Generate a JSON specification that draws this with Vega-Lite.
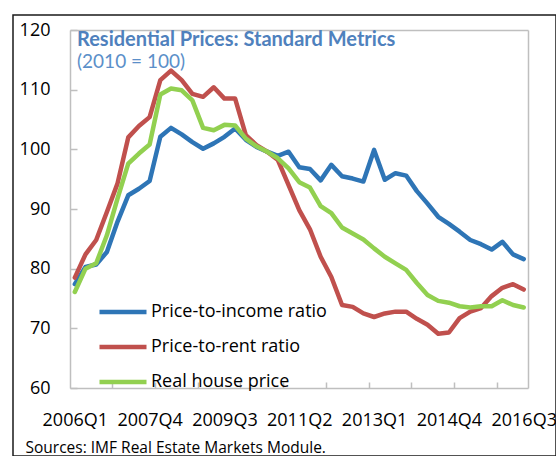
{
  "$schema": "https://vega.github.io/schema/vega-lite/v6.json",
  "width": 543,
  "height": 441,
  "autosize": {"type": "none"},
  "padding": {"left": 13, "top": 15, "right": 0, "bottom": 0},
  "background": "white",
  "config": {"view": {"stroke": "#1a1a1a", "strokeWidth": 1.5}, "font": "Open Sans"},
  "title": {
    "text": "Residential Prices: Standard Metrics",
    "subtitle": "(2010 = 100)",
    "anchor": "start",
    "frame": "group",
    "orient": "top",
    "font": "Lato",
    "fontSize": 20,
    "fontWeight": "bold",
    "color": "#4f81bd",
    "subtitleFont": "Lato",
    "subtitleFontSize": 19,
    "subtitleFontWeight": "normal",
    "subtitleColor": "#5b8fc9",
    "subtitlePadding": 3,
    "dx": 64,
    "dy": 57,
    "offset": 0
  },
  "data": {
    "values": [
      {"q": 0, "Price-to-income ratio": 77.4, "Price-to-rent ratio": 78.5, "Real house price": 76.1},
      {"q": 1, "Price-to-income ratio": 80.3, "Price-to-rent ratio": 82.4, "Real house price": 80.0},
      {"q": 2, "Price-to-income ratio": 80.7, "Price-to-rent ratio": 84.8, "Real house price": 80.9},
      {"q": 3, "Price-to-income ratio": 82.8, "Price-to-rent ratio": 89.5, "Real house price": 85.6},
      {"q": 4, "Price-to-income ratio": 87.9, "Price-to-rent ratio": 94.3, "Real house price": 91.8},
      {"q": 5, "Price-to-income ratio": 92.3, "Price-to-rent ratio": 102.0, "Real house price": 97.6},
      {"q": 6, "Price-to-income ratio": 93.4, "Price-to-rent ratio": 103.9, "Real house price": 99.3},
      {"q": 7, "Price-to-income ratio": 94.7, "Price-to-rent ratio": 105.4, "Real house price": 100.8},
      {"q": 8, "Price-to-income ratio": 102.1, "Price-to-rent ratio": 111.6, "Real house price": 109.2},
      {"q": 9, "Price-to-income ratio": 103.6, "Price-to-rent ratio": 113.2, "Real house price": 110.2},
      {"q": 10, "Price-to-income ratio": 102.5, "Price-to-rent ratio": 111.6, "Real house price": 109.9},
      {"q": 11, "Price-to-income ratio": 101.2, "Price-to-rent ratio": 109.3, "Real house price": 108.2},
      {"q": 12, "Price-to-income ratio": 100.1, "Price-to-rent ratio": 108.8, "Real house price": 103.6},
      {"q": 13, "Price-to-income ratio": 101.0, "Price-to-rent ratio": 110.4, "Real house price": 103.2},
      {"q": 14, "Price-to-income ratio": 102.1, "Price-to-rent ratio": 108.5, "Real house price": 104.1},
      {"q": 15, "Price-to-income ratio": 103.5, "Price-to-rent ratio": 108.5, "Real house price": 104.0},
      {"q": 16, "Price-to-income ratio": 101.6, "Price-to-rent ratio": 102.4, "Real house price": 101.8},
      {"q": 17, "Price-to-income ratio": 100.4, "Price-to-rent ratio": 100.7, "Real house price": 100.5},
      {"q": 18, "Price-to-income ratio": 99.6, "Price-to-rent ratio": 99.6, "Real house price": 99.6},
      {"q": 19, "Price-to-income ratio": 98.9, "Price-to-rent ratio": 98.2, "Real house price": 98.5},
      {"q": 20, "Price-to-income ratio": 99.6, "Price-to-rent ratio": 94.0, "Real house price": 96.8},
      {"q": 21, "Price-to-income ratio": 97.0, "Price-to-rent ratio": 89.8, "Real house price": 94.5},
      {"q": 22, "Price-to-income ratio": 96.7, "Price-to-rent ratio": 86.6, "Real house price": 93.6},
      {"q": 23, "Price-to-income ratio": 94.8, "Price-to-rent ratio": 82.0, "Real house price": 90.5},
      {"q": 24, "Price-to-income ratio": 97.4, "Price-to-rent ratio": 78.6, "Real house price": 89.3},
      {"q": 25, "Price-to-income ratio": 95.5, "Price-to-rent ratio": 73.9, "Real house price": 86.9},
      {"q": 26, "Price-to-income ratio": 95.1, "Price-to-rent ratio": 73.6, "Real house price": 85.9},
      {"q": 27, "Price-to-income ratio": 94.6, "Price-to-rent ratio": 72.5, "Real house price": 84.9},
      {"q": 28, "Price-to-income ratio": 99.9, "Price-to-rent ratio": 71.9, "Real house price": 83.4},
      {"q": 29, "Price-to-income ratio": 94.9, "Price-to-rent ratio": 72.5, "Real house price": 82.0},
      {"q": 30, "Price-to-income ratio": 96.0, "Price-to-rent ratio": 72.8, "Real house price": 80.9},
      {"q": 31, "Price-to-income ratio": 95.6, "Price-to-rent ratio": 72.8, "Real house price": 79.8},
      {"q": 32, "Price-to-income ratio": 93.0, "Price-to-rent ratio": 71.6, "Real house price": 77.6},
      {"q": 33, "Price-to-income ratio": 90.9, "Price-to-rent ratio": 70.6, "Real house price": 75.6},
      {"q": 34, "Price-to-income ratio": 88.7, "Price-to-rent ratio": 69.1, "Real house price": 74.6},
      {"q": 35, "Price-to-income ratio": 87.5, "Price-to-rent ratio": 69.3, "Real house price": 74.3},
      {"q": 36, "Price-to-income ratio": 86.2, "Price-to-rent ratio": 71.7, "Real house price": 73.7},
      {"q": 37, "Price-to-income ratio": 84.8, "Price-to-rent ratio": 72.8, "Real house price": 73.5},
      {"q": 38, "Price-to-income ratio": 84.1, "Price-to-rent ratio": 73.4, "Real house price": 73.7},
      {"q": 39, "Price-to-income ratio": 83.2, "Price-to-rent ratio": 75.4, "Real house price": 73.7},
      {"q": 40, "Price-to-income ratio": 84.5, "Price-to-rent ratio": 76.8, "Real house price": 74.7},
      {"q": 41, "Price-to-income ratio": 82.4, "Price-to-rent ratio": 77.4, "Real house price": 73.9},
      {"q": 42, "Price-to-income ratio": 81.6, "Price-to-rent ratio": 76.5, "Real house price": 73.5}
    ]
  },
  "transform": [
    {"fold": ["Price-to-income ratio", "Price-to-rent ratio", "Real house price"], "as": ["series", "value"]}
  ],
  "layer": [
    {
      "mark": {"type": "line", "strokeWidth": 4.5, "strokeCap": "round", "strokeJoin": "round"},
      "encoding": {
        "x": {
          "field": "q",
          "type": "quantitative",
          "scale": {"domain": [-0.45, 42.4], "range": [57, 515], "nice": false, "zero": false},
          "axis": {
            "values": [0, 3.5, 7, 7.5, 11.5, 14, 15.5, 19.5, 21, 23.5, 27.5, 28, 31.5, 35, 35.5, 39.5, 42],
            "labelExpr": "datum.value % 7 === 0 ? (2006 + floor(datum.value / 4)) + 'Q' + (datum.value % 4 + 1) : ''",
            "tickOpacity": {"condition": {"test": "datum.value % 1 === 0", "value": 0}, "value": 1},
            "tickSize": -6,
            "tickColor": "#bfbfbf",
            "tickWidth": 1.5,
            "domainColor": "#bfbfbf",
            "domainWidth": 1.5,
            "grid": false,
            "offset": -68,
            "labelFontSize": 18,
            "labelColor": "black",
            "labelPadding": 29,
            "labelFlush": false,
            "labelOverlap": false,
            "labelBound": false,
            "title": "Sources: IMF Real Estate Markets Module.",
            "titleFontSize": 15.5,
            "titleFontWeight": "normal",
            "titleColor": "black",
            "titleAnchor": "start",
            "titleAlign": "left",
            "titleBaseline": "middle",
            "titleX": 12,
            "titleY": 59
          }
        },
        "y": {
          "field": "value",
          "type": "quantitative",
          "scale": {"domain": [60, 120], "range": [373, 15], "nice": false, "zero": false},
          "axis": {
            "values": [60, 70, 80, 90, 100, 110, 120],
            "offset": -57,
            "tickSize": -7,
            "tickColor": "#bfbfbf",
            "tickWidth": 1.5,
            "domainColor": "#bfbfbf",
            "domainWidth": 1.5,
            "grid": false,
            "labelFontSize": 18,
            "labelColor": "black",
            "labelPadding": 27,
            "labelFlush": false,
            "labelOverlap": false,
            "title": null
          }
        },
        "color": {
          "field": "series",
          "type": "nominal",
          "scale": {
            "domain": ["Price-to-income ratio", "Price-to-rent ratio", "Real house price"],
            "range": ["#2e75b6", "#c0504d", "#92d050"]
          },
          "legend": {
            "orient": "none",
            "legendX": 84,
            "legendY": 271,
            "title": null,
            "symbolType": "stroke",
            "symbolSize": 2209,
            "symbolStrokeWidth": 4.5,
            "labelFontSize": 18,
            "labelColor": "black",
            "labelLimit": 0,
            "labelOffset": 2,
            "rowPadding": 0,
            "padding": 0
          }
        }
      }
    },
    {
      "mark": {"type": "line", "opacity": 0},
      "encoding": {
        "x": {
          "field": "q",
          "type": "quantitative",
          "axis": {"orient": "top", "offset": -15, "labels": false, "ticks": false, "grid": false, "domainColor": "#bfbfbf", "domainWidth": 1.5, "title": null}
        },
        "y": {
          "field": "value",
          "type": "quantitative",
          "axis": {"orient": "right", "offset": -28, "labels": false, "ticks": false, "grid": false, "domainColor": "#bfbfbf", "domainWidth": 1.5, "title": null}
        },
        "detail": {"field": "series", "type": "nominal"}
      }
    }
  ],
  "resolve": {"axis": {"x": "independent", "y": "independent"}}
}
